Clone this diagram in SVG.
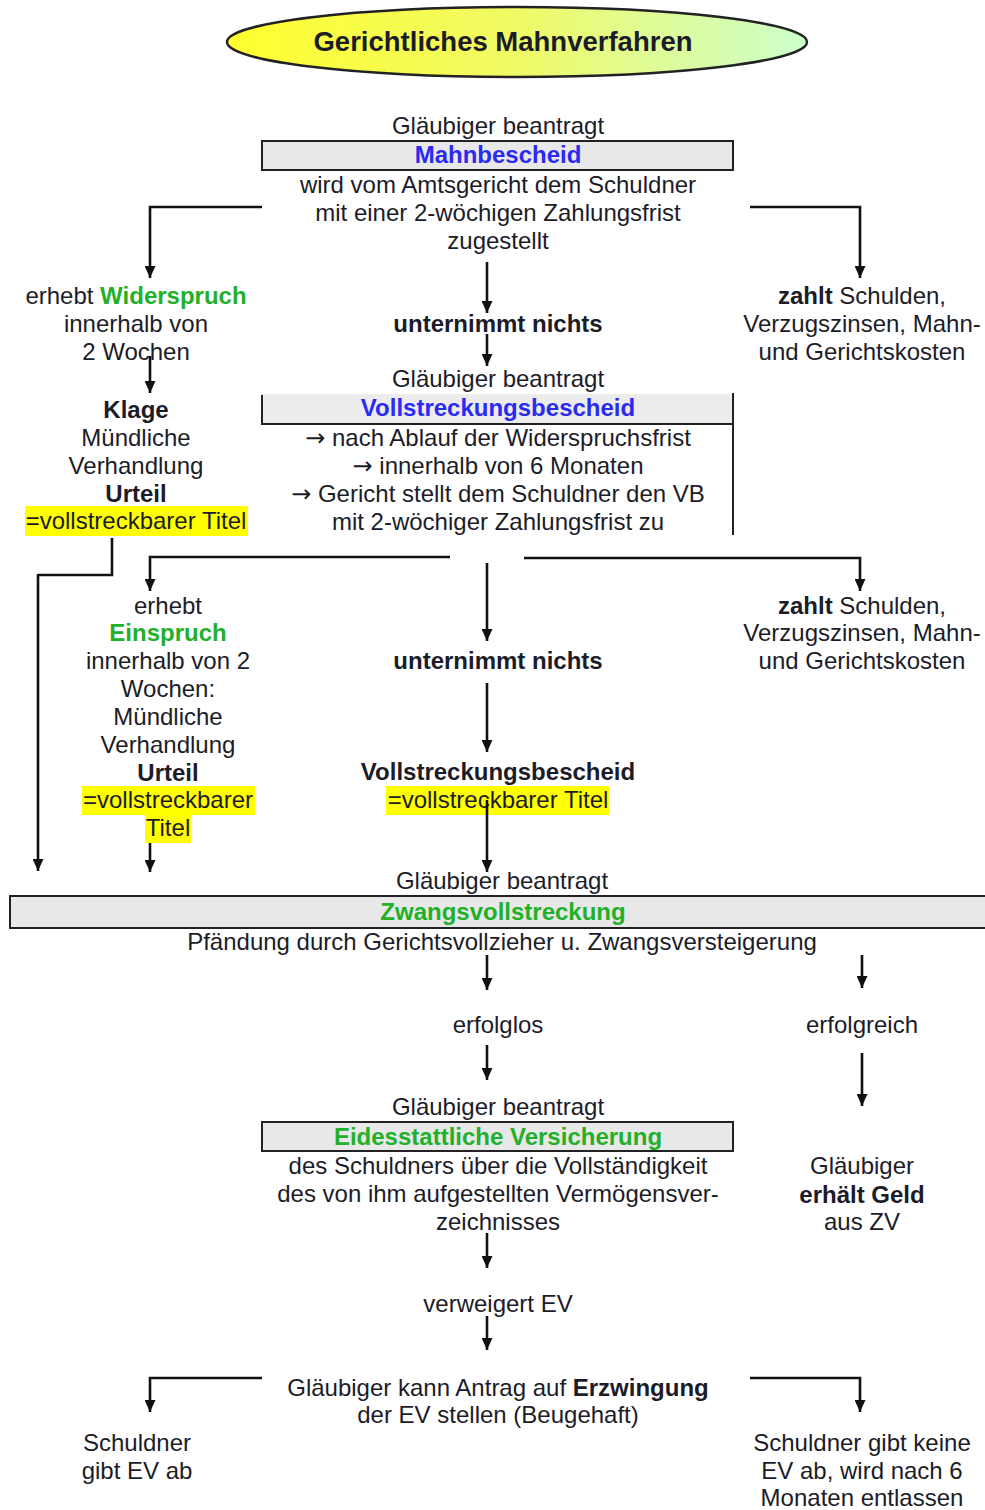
<svg xmlns="http://www.w3.org/2000/svg" width="985" height="1510" viewBox="0 0 985 1510">
<style>
text{font-family:"Liberation Sans",Arial,sans-serif;font-size:24px;fill:#1c1c28;text-anchor:middle}
.b{font-weight:bold}
.blue{fill:#2a2af0;font-weight:bold}
.green{fill:#22b02a;font-weight:bold}
.ar{font-family:"DejaVu Sans",sans-serif}
.box{fill:#e8e8e8;stroke:#222;stroke-width:2}
.hl{fill:#ffff00}
.c{fill:none;stroke:#111;stroke-width:2.6;marker-end:url(#ah)}
.n{fill:none;stroke:#111;stroke-width:2.6}
.t{fill:none;stroke:#222;stroke-width:2}
</style>
<defs>
<linearGradient id="tg" x1="0" y1="0" x2="1" y2="0">
<stop offset="0" stop-color="#ffff2e"/>
<stop offset="0.5" stop-color="#f0fa66"/>
<stop offset="1" stop-color="#ccffcc"/>
</linearGradient>
<marker id="ah" markerUnits="userSpaceOnUse" markerWidth="13" markerHeight="11" refX="12" refY="5.5" orient="auto">
<path d="M0,0 L12,5.5 L0,11 Z" fill="#111"/>
</marker>
</defs>

<g id="title">
<ellipse cx="517" cy="42" rx="290" ry="35" fill="url(#tg)" stroke="#222" stroke-width="2.5"/>
<text x="503" y="51" class="b" style="font-size:27.5px">Gerichtliches Mahnverfahren</text>
</g>

<g id="mahnbescheid">
<text x="498" y="134">Gläubiger beantragt</text>
<rect class="box" x="262" y="141" width="471" height="29"/>
<text x="498" y="163" class="blue">Mahnbescheid</text>
<text x="498" y="193">wird vom Amtsgericht dem Schuldner</text>
<text x="498" y="221">mit einer 2-wöchigen Zahlungsfrist</text>
<text x="498" y="249">zugestellt</text>
</g>

<g id="widerspruch">
<text x="136" y="304">erhebt <tspan class="green">Widerspruch</tspan></text>
<text x="136" y="332">innerhalb von</text>
<text x="136" y="360">2 Wochen</text>
<text x="136" y="418" class="b">Klage</text>
<text x="136" y="446">Mündliche</text>
<text x="136" y="474">Verhandlung</text>
<text x="136" y="502" class="b">Urteil</text>
<rect class="hl" x="25" y="506" width="223" height="30"/>
<text x="136" y="529">=vollstreckbarer Titel</text>
</g>

<g id="nichts1">
<text x="498" y="332" class="b">unternimmt nichts</text>
</g>

<g id="zahlt1">
<text x="862" y="304"><tspan class="b">zahlt</tspan> Schulden,</text>
<text x="862" y="332">Verzugszinsen, Mahn-</text>
<text x="862" y="360">und Gerichtskosten</text>
</g>

<g id="vollstreckungsbescheid">
<text x="498" y="387">Gläubiger beantragt</text>
<rect x="262" y="394" width="471" height="30" fill="#ececec"/>
<path class="t" d="M262,395 V425 M262,424 H733 M733,393 V535"/>
<text x="498" y="416" class="blue">Vollstreckungsbescheid</text>
<text x="498" y="446"><tspan class="ar">→</tspan> nach Ablauf der Widerspruchsfrist</text>
<text x="498" y="474"><tspan class="ar">→</tspan> innerhalb von 6 Monaten</text>
<text x="498" y="502"><tspan class="ar">→</tspan> Gericht stellt dem Schuldner den VB</text>
<text x="498" y="530">mit 2-wöchiger Zahlungsfrist zu</text>
</g>

<g id="einspruch">
<text x="168" y="614">erhebt</text>
<text x="168" y="641" class="green">Einspruch</text>
<text x="168" y="669">innerhalb von 2</text>
<text x="168" y="697">Wochen:</text>
<text x="168" y="725">Mündliche</text>
<text x="168" y="753">Verhandlung</text>
<text x="168" y="781" class="b">Urteil</text>
<rect class="hl" x="82" y="786" width="173" height="29"/>
<rect class="hl" x="145" y="815" width="46" height="28"/>
<text x="168" y="808">=vollstreckbarer</text>
<text x="168" y="836">Titel</text>
</g>

<g id="nichts2">
<text x="498" y="669" class="b">unternimmt nichts</text>
<text x="498" y="780" class="b">Vollstreckungsbescheid</text>
<rect class="hl" x="386" y="786" width="223" height="29"/>
<text x="498" y="808">=vollstreckbarer Titel</text>
</g>

<g id="zahlt2">
<text x="862" y="614"><tspan class="b">zahlt</tspan> Schulden,</text>
<text x="862" y="641">Verzugszinsen, Mahn-</text>
<text x="862" y="669">und Gerichtskosten</text>
</g>

<g id="zwangsvollstreckung">
<text x="502" y="889">Gläubiger beantragt</text>
<rect class="box" x="10" y="896" width="980" height="32"/>
<text x="503" y="920" class="green">Zwangsvollstreckung</text>
<text x="502" y="950">Pfändung durch Gerichtsvollzieher u. Zwangsversteigerung</text>
</g>

<g id="erfolglos">
<text x="498" y="1033">erfolglos</text>
</g>
<g id="erfolgreich">
<text x="862" y="1033">erfolgreich</text>
</g>

<g id="ev">
<text x="498" y="1115">Gläubiger beantragt</text>
<rect class="box" x="262" y="1122" width="471" height="29"/>
<text x="498" y="1145" class="green">Eidesstattliche Versicherung</text>
<text x="498" y="1174">des Schuldners über die Vollständigkeit</text>
<text x="498" y="1202">des von ihm aufgestellten Vermögensver-</text>
<text x="498" y="1230">zeichnisses</text>
</g>

<g id="geld">
<text x="862" y="1174">Gläubiger</text>
<text x="862" y="1203" class="b">erhält Geld</text>
<text x="862" y="1230">aus ZV</text>
</g>

<g id="verweigert">
<text x="498" y="1312">verweigert EV</text>
</g>

<g id="erzwingung">
<text x="498" y="1396">Gläubiger kann Antrag auf <tspan class="b">Erzwingung</tspan></text>
<text x="498" y="1423">der EV stellen (Beugehaft)</text>
</g>

<g id="gibtab">
<text x="137" y="1451">Schuldner</text>
<text x="137" y="1479">gibt EV ab</text>
</g>

<g id="gibtkeine">
<text x="862" y="1451">Schuldner gibt keine</text>
<text x="862" y="1479">EV ab, wird nach 6</text>
<text x="862" y="1506">Monaten entlassen</text>
</g>

<g id="connectors">
<path class="c" d="M262,207 H150 V278"/>
<path class="c" d="M750,207 H860 V278"/>
<path class="c" d="M487,262 V313"/>
<path class="c" d="M487,334 V366"/>
<path class="c" d="M150,356 V393"/>
<path class="n" d="M112,538 V575 H38"/>
<path class="c" d="M38,574 V871"/>
<path class="c" d="M450,557 H150 V591"/>
<path class="c" d="M524,558 H860 V591"/>
<path class="c" d="M487,563 V641"/>
<path class="c" d="M487,683 V752"/>
<path class="c" d="M487,800 V872"/>
<path class="c" d="M150,843 V872"/>
<path class="c" d="M487,955 V990"/>
<path class="c" d="M862,955 V988"/>
<path class="c" d="M487,1045 V1080"/>
<path class="c" d="M862,1053 V1106"/>
<path class="c" d="M487,1233 V1268"/>
<path class="c" d="M487,1316 V1350"/>
<path class="c" d="M262,1378 H150 V1412"/>
<path class="c" d="M750,1378 H860 V1412"/>
</g>
</svg>
